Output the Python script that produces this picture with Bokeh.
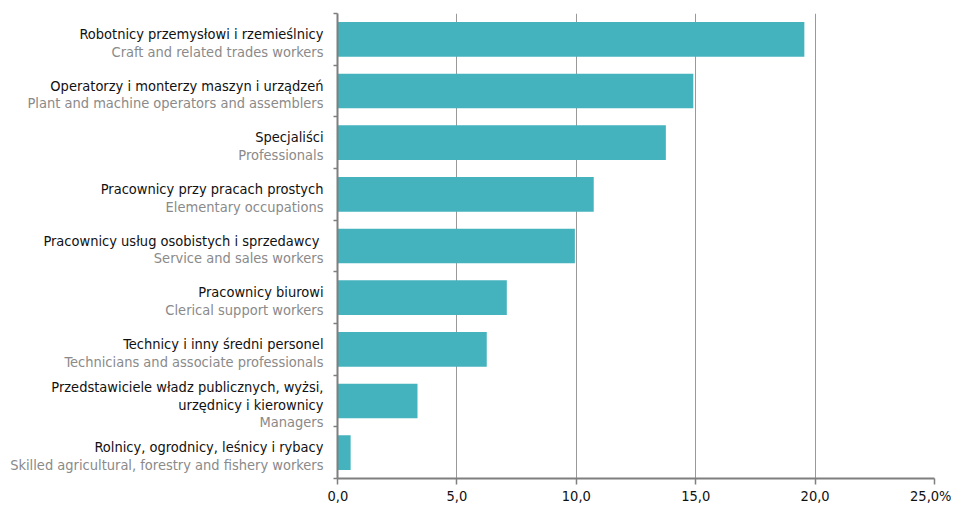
from bokeh.plotting import figure
from bokeh.layouts import row
from bokeh.models import ColumnDataSource, FixedTicker, Range1d
from bokeh.core.properties import value
from bokeh.embed import file_html
from bokeh.resources import INLINE

# ---- data (top to bottom) ----
labels_pl = [
    "Robotnicy przemysłowi i rzemieślnicy",
    "Operatorzy i monterzy maszyn i urządzeń",
    "Specjaliści",
    "Pracownicy przy pracach prostych",
    "Pracownicy usług osobistych  i sprzedawcy",
    "Pracownicy biurowi",
    "Technicy i inny średni personel",
    "Przedstawiciele władz publicznych, wyżsi,\nurzędnicy i kierownicy",
    "Rolnicy, ogrodnicy, leśnicy i rybacy",
]
labels_en = [
    "Craft and related trades workers",
    "Plant and machine operators and assemblers",
    "Professionals",
    "Elementary occupations",
    "Service and sales workers",
    "Clerical support workers",
    "Technicians and associate professionals",
    "Managers",
    "Skilled agricultural, forestry and fishery workers",
]
values = [19.55, 14.9, 13.75, 10.73, 9.94, 7.09, 6.25, 3.35, 0.55]
x_ticks = [0, 5, 10, 15, 20, 25]
x_tick_labels = ["0,0", "5,0", "10,0", "15,0", "20,0", "25,0%"]

FONT = "DejaVu Sans Condensed"
BAR = "#45B3BE"
AXIS = "#7f7f7f"
GRAY_TXT = "#8a8a8a"
BLACK_TXT = "#111111"

n = len(values)
ys = [n - i - 0.5 for i in range(n)]
y_range = Range1d(0, n)

TOP = 13
FH = 465

# ---- main chart ----
p = figure(
    frame_width=597, frame_height=FH,
    min_border_left=10, min_border_top=TOP, min_border_right=17, min_border_bottom=30,
    x_range=Range1d(0, 25), y_range=y_range,
    output_backend="svg", toolbar_location=None,
)
p.outline_line_color = None
p.hbar(y=ys, right=values, left=0, height=0.67, color=BAR, line_color=None)

xa = p.xaxis[0]
xa.ticker = FixedTicker(ticks=x_ticks)
xa.major_label_overrides = {t: l for t, l in zip(x_ticks, x_tick_labels)}
xa.axis_line_color = AXIS
xa.axis_line_width = 2
xa.major_tick_line_color = AXIS
xa.major_tick_line_width = 1.5
xa.major_tick_out = 6
xa.major_tick_in = 0
xa.minor_tick_line_color = None
xa.major_label_text_font = FONT
xa.major_label_text_font_size = "14.5px"
xa.major_label_text_color = BLACK_TXT
xa.major_label_standoff = 3

ya = p.yaxis[0]
ya.ticker = FixedTicker(ticks=list(range(n + 1)))
ya.major_label_overrides = {i: "" for i in range(n + 1)}
ya.axis_line_color = AXIS
ya.axis_line_width = 2
ya.major_tick_line_color = AXIS
ya.major_tick_line_width = 1.5
ya.major_tick_out = 4
ya.major_tick_in = 0
ya.minor_tick_line_color = None
ya.major_label_standoff = 0

p.xgrid.ticker = FixedTicker(ticks=[5, 10, 15, 20, 25])
p.xgrid.grid_line_color = "#999999"
p.xgrid.grid_line_width = 1
p.ygrid.grid_line_color = None

# ---- category labels panel ----
lx, ly, loff, ltxt, lcol = [], [], [], [], []
LINE_H = 17.5
for i in range(n):
    lines = labels_pl[i].split("\n")
    cols = [BLACK_TXT] * len(lines)
    lines.append(labels_en[i])
    cols.append(GRAY_TXT)
    m = len(lines)
    for k, t in enumerate(lines):
        lx.append(1)
        ly.append(ys[i])
        loff.append(3.5 + (k - (m - 1) / 2) * LINE_H)
        ltxt.append(t)
        lcol.append(cols[k])

src = ColumnDataSource(dict(x=lx, y=ly, yo=loff, text=ltxt, color=lcol))
q = figure(
    frame_width=327, frame_height=FH,
    min_border_left=0, min_border_right=0, min_border_top=TOP, min_border_bottom=0,
    x_range=Range1d(0, 1), y_range=y_range,
    x_axis_location=None, y_axis_location=None,
    output_backend="svg", toolbar_location=None,
)
q.outline_line_color = None
q.xgrid.grid_line_color = None
q.ygrid.grid_line_color = None
q.text(x="x", y="y", text="text", source=src, x_offset=-4, y_offset="yo",
       text_align="right", text_baseline="middle", text_color="color",
       text_font=value(FONT), text_font_size="14.5px")

layout = row(q, p)
open("out.html", "w").write(file_html(layout, INLINE))
